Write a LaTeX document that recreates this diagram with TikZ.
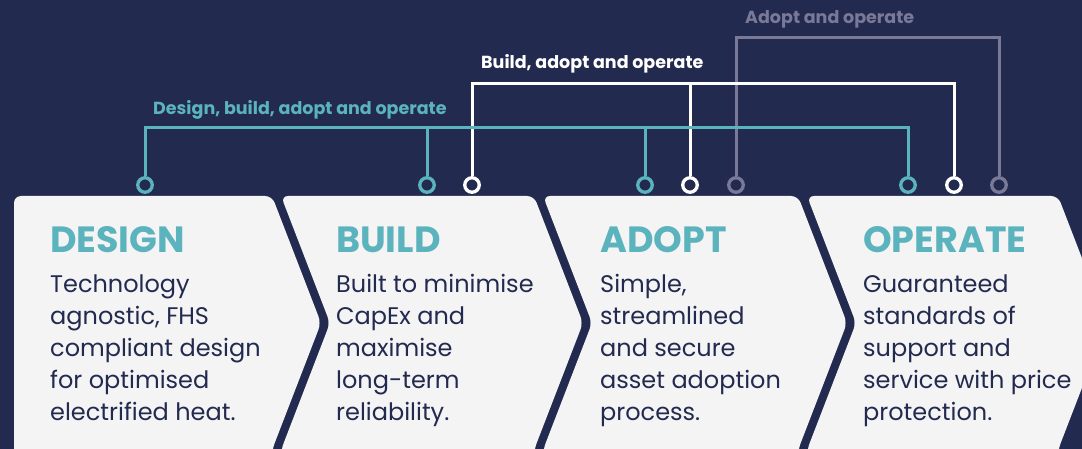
\documentclass[tikz,border=0pt]{standalone}
\usepackage{fontspec}
\setmainfont{Poppins}
\begin{document}
\definecolor{navy}{HTML}{232A50}
\definecolor{teal}{HTML}{5BB3BE}
\definecolor{paper}{HTML}{F4F4F4}
\definecolor{slate}{HTML}{7A7A98}
\begin{tikzpicture}[x=1pt,y=-1pt,
  stage/.style={fill=paper, rounded corners=7pt},
  heading/.style={anchor=base west, inner sep=0pt, text=teal, font=\fontsize{36.5}{36.5}\bfseries\selectfont},
  body/.style={anchor=base west, inner sep=0pt, text=navy, align=left, font=\fontsize{24}{32}\selectfont},
  tag/.style={anchor=base west, inner sep=0pt, font=\fontsize{17.5}{17.5}\bfseries\selectfont},
  port/.style={circle, draw, line width=3.3pt, minimum size=14.5pt, inner sep=0pt},
  wire/.style={line width=3pt}]
\clip (0,0) rectangle (1082,449);
\fill[navy] (0,0) rectangle (1082,449);

% the four chevron stages
\fill[stage] (14,470) -- (14,196) -- (272,196) -- (321,323) -- (272,450) -- (272,470) -- cycle;
\fill[stage] (281,470) -- (281,450) -- (330,323) -- (281,196) -- (534,196) -- (583,323) -- (534,450) -- (534,470) -- cycle;
\fill[stage] (543,470) -- (543,450) -- (592,323) -- (543,196) -- (798,196) -- (847,323) -- (798,450) -- (798,470) -- cycle;
\fill[stage] (807,470) -- (807,450) -- (856,323) -- (807,196) -- (1058,196) -- (1107,323) -- (1058,450) -- (1058,470) -- cycle;

% stage titles and descriptions (body anchored at the baseline of its last line)
\node[heading] (hd) at (50,253) {DESIGN};
\node[heading] (hb) at (336,253) {BUILD};
\node[heading] (ha) at (600,253) {ADOPT};
\node[heading] (ho) at (863,253) {OPERATE};

\node[body] (td) at (50,420) {Technology\\agnostic, FHS\\compliant design\\for optimised\\electrified heat.};
\node[body] (tb) at (336,420) {Built to minimise\\CapEx and\\maximise\\long-term\\reliability.};
\node[body] (ta) at (600,420) {Simple,\\streamlined\\and secure\\asset adoption\\process.};
\node[body] (to) at (863,420) {Guaranteed\\standards of\\support and\\service with price\\protection.};

% connection ports above the stages
\node[port, draw=teal] (p1) at (145,185) {};
\node[port, draw=teal] (p2) at (427,185) {};
\node[port, draw=white] (w1) at (472,185) {};
\node[port, draw=teal] (p3) at (645,185) {};
\node[port, draw=white] (w2) at (690,185) {};
\node[port, draw=slate] (g1) at (736,185) {};
\node[port, draw=teal] (p4) at (908,185) {};
\node[port, draw=white] (w3) at (954,185) {};
\node[port, draw=slate] (g2) at (999,185) {};

% brackets linking the stages
\draw[wire, slate] (g1.north) -- (g1.north |- 0,38) -| (g2.north);
\draw[wire, white] (w1.north) -- (w1.north |- 0,84) -| (w3.north);
\draw[wire, white] (w2.north) -- (w2.north |- 0,84);
\draw[wire, teal] (p1.north) -- (p1.north |- 0,128) -| (p4.north);
\draw[wire, teal] (p2.north) -- (p2.north |- 0,128);
\draw[wire, teal] (p3.north) -- (p3.north |- 0,128);

\node[tag, text=slate] (l3) at (745,24) {Adopt and operate};
\node[tag, text=white] (l2) at (481,69) {Build, adopt and operate};
\node[tag, text=teal] (l1) at (153,115) {Design, build, adopt and operate};
\end{tikzpicture}
\end{document}
